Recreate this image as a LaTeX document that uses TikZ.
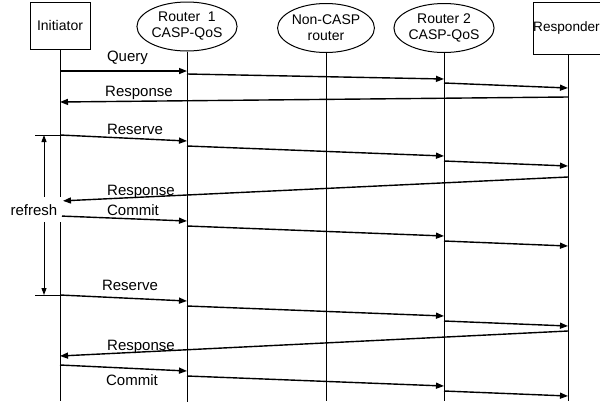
\documentclass[tikz,border=0pt]{standalone}
\usepackage{fontspec}
\setmainfont{Liberation Sans}
\usetikzlibrary{arrows.meta,shapes.geometric}
\begin{document}
\begin{tikzpicture}[x=1pt,y=-1pt,
  box/.style={draw,line width=1pt,inner sep=0pt,font=\fontsize{14}{16}\selectfont},
  ell/.style={draw,ellipse,line width=1pt,inner sep=0pt,minimum width=85pt,minimum height=49pt,align=center,font=\fontsize{14}{16}\selectfont},
  life/.style={line width=1pt},
  msg/.style={line width=1.4pt,-{Triangle[length=8pt,width=6pt]}},
  lbl/.style={anchor=base,font=\fontsize{15}{18}\selectfont,inner sep=0pt},
]
\useasboundingbox (0,0) rectangle (600,405);
% actors
\node[box,minimum width=60pt,minimum height=47pt] (I) at (60,25.5) {Initiator};
\node[ell] (R1) at (187,26.5) {Router~~1\\CASP-QoS};
\node[ell] (N) at (326,28) {Non-CASP\\router};
\node[ell] (R2) at (444,28) {Router 2\\CASP-QoS};
\node[box,minimum width=70pt,minimum height=52pt] (Rs) at (568,28) {};
\node[font=\fontsize{13.6}{16}\selectfont,inner sep=0pt] (RsT) at (566.5,28) {Responder};
% lifelines
\coordinate (Ie) at (I.south |- 0,401);
\coordinate (R1e) at (R1.south |- 0,402);
\coordinate (Ne) at (N.south |- 0,401);
\coordinate (R2e) at (R2.south |- 0,401);
\coordinate (Rse) at (Rs.south |- 0,401);
\draw[life] (I.south) -- (Ie);
\draw[life] (R1.south) -- (R1e);
\draw[life] (N.south) -- (Ne);
\draw[life] (R2.south) -- (R2e);
\draw[life] (Rs.south) -- (Rse);
% refresh bracket
\coordinate (rt) at (44,135);
\coordinate (rb) at (44,295);
\coordinate (rtl) at (35,135);
\coordinate (rbl) at (35,295);
\draw[line width=0.7pt] (rtl) -- (I |- rtl);
\draw[line width=0.7pt] (rbl) -- (I |- rbl);
\draw[line width=1pt,{Triangle[length=7pt,width=5pt]}-{Triangle[length=7pt,width=5pt]}] (rt) -- (rb);
\fill[white] (7,197) rectangle (61.5,222);
\node[lbl] (refresh) at (34,215) {refresh};
% Query
\draw[msg] (I |- 0,71) -- (R1 |- 0,71);
\draw[msg] (R1 |- 0,74) -- (R2 |- 0,79);
\draw[msg] (R2 |- 0,83) -- (Rs |- 0,88);
\node[lbl] (q) at (127.5,61) {Query};
% Response 1
\draw[msg] (Rs |- 0,97) -- (I |- 0,102);
\node[lbl] (r1) at (139,96) {Response};
% Reserve 1
\draw[msg] (I |- 0,135) -- (R1 |- 0,141);
\draw[msg] (R1 |- 0,146) -- (R2 |- 0,156);
\draw[msg] (R2 |- 0,161) -- (Rs |- 0,166);
\node[lbl] (s1) at (135,134.7) {Reserve};
% Response 2
\draw[msg,shorten >=3pt] (Rs |- 0,177) -- (I |- 0,201);
\node[lbl] (r2) at (141,195) {Response};
% Commit 1
\draw[msg,shorten <=2pt] (I |- 0,216) -- (R1 |- 0,221);
\draw[msg] (R1 |- 0,226) -- (R2 |- 0,236);
\draw[msg] (R2 |- 0,241) -- (Rs |- 0,246);
\node[lbl] (c1) at (133,215) {Commit};
% Reserve 2
\draw[msg] (I |- 0,295) -- (R1 |- 0,301);
\draw[msg] (R1 |- 0,306) -- (R2 |- 0,316);
\draw[msg] (R2 |- 0,321) -- (Rs |- 0,326);
\node[lbl] (s2) at (130,290) {Reserve};
% Response 3
\draw[msg] (Rs |- 0,331) -- (I |- 0,356);
\node[lbl] (r3) at (141,350) {Response};
% Commit 2
\draw[msg] (I |- 0,365) -- (R1 |- 0,371);
\draw[msg] (R1 |- 0,376) -- (R2 |- 0,386);
\draw[msg] (R2 |- 0,391) -- (Rs |- 0,396);
\node[lbl] (c2) at (132,385) {Commit};
\end{tikzpicture}
\end{document}
